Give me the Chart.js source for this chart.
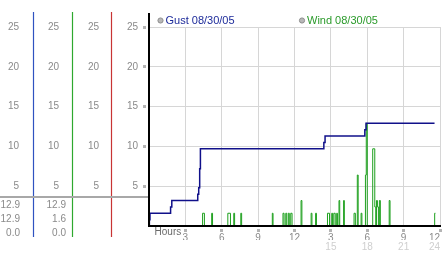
<!DOCTYPE html>
<html><head><meta charset="utf-8">
<style>html,body{margin:0;padding:0;background:#fff;}canvas{display:block;}</style>
<script src="https://cdn.jsdelivr.net/npm/chart.js@4.4.1/dist/chart.umd.min.js"></script>
</head><body>
<canvas id="c" width="442" height="253"></canvas>
<script>
// ---- data ----
const seriesLabels = ['Gust 08/30/05', 'Wind 08/30/05'];
const gustHours  = [0, 0.03, 0.08, 1.78, 1.88, 4.02, 4.10, 4.18, 4.24, 14.42, 14.52, 17.80, 17.90, 23.55];
const gustValues = [0, 0.8, 1.6, 2.4, 3.2, 4.0, 4.8, 7.2, 9.7, 10.5, 11.3, 12.1, 12.9, 12.9];
const windHours  = [0, 4.42, 4.57, 5.17, 5.24, 6.50, 6.72, 6.99, 7.06, 7.57, 7.64, 10.17, 10.23,
  11.05, 11.14, 11.28, 11.36, 11.49, 11.57, 11.69, 11.80, 12.54, 12.61, 13.37, 13.44, 13.74, 13.81,
  14.72, 14.89, 15.07, 15.14, 15.24, 15.36, 15.48, 15.54, 15.67, 15.73, 16.05, 16.11, 16.91, 17.02,
  17.18, 17.25, 17.49, 17.56, 17.85, 17.92, 18.00, 18.45, 18.62, 18.70, 18.76, 18.84, 18.92,
  19.00, 19.08, 19.81, 19.88, 23.56, 23.62];
const windValues = [0, 1.6, 0, 1.6, 0, 1.6, 0, 1.6, 0, 1.6, 0, 1.6, 0,
  1.6, 0, 1.6, 0, 1.6, 0, 1.6, 0, 3.2, 0, 1.6, 0, 1.6, 0,
  1.6, 0, 1.6, 0, 1.6, 0, 1.6, 0, 3.2, 0, 3.2, 0, 1.6, 0,
  6.4, 0, 1.6, 0, 6.4, 12.9, 0, 9.7, 2.4, 0, 3.2, 2.4, 0,
  3.2, 0, 3.2, 0, 1.6, 1.6];
const gustStats = [12.9, 12.9, 0.0];   // max, current, min
const windStats = [12.9, 1.6, 0.0];
const yTickValues = [5, 10, 15, 20, 25];
const xTickHours = [0, 3, 6, 9, 12, 15, 18, 21, 24];
const xTopLabels = ['  Hours', '3', '6', '9', '12', '3', '6', '9', '12'];
const xBottomLabels = ['', '', '', '', '', '15', '18', '21', '24'];
const yMin = 0, yMax = 25, xMin = 0, xMax = 24;

// ---- styles ----
const FAM = "'Liberation Sans', Arial, sans-serif";
const lineColors = ['#10108a', '#1ea01e'];
const legendTextColors = ['#1c2a9a', '#2a9a2a'];
const columnColors = ['#2f52c0', '#2ea82e', '#c83434'];
const tickGrey = '#8a8a8a';

function sideAxis(color, weight, width, pad) {
  return {
    type: 'linear', position: 'left', weight: weight, min: yMin, max: yMax,
    afterBuildTicks: s => { s.ticks = yTickValues.map(v => ({value: v})); },
    afterFit: s => { s.width = width; },
    grid: { display: false, drawTicks: false },
    border: { display: true, color: color, width: 1 },
    ticks: { padding: pad, color: tickGrey, font: { family: FAM, size: 10 } }
  };
}

const panelPlugin = {
  id: 'panel',
  afterDraw(chart) {
    const { ctx, chartArea: ca, scales: s } = chart;
    ctx.save();
    // coloured column lines
    ['yG', 'yW', 'yR'].forEach((id, i) => {
      const x = Math.round(s[id].right) + 0.5;
      ctx.strokeStyle = columnColors[i]; ctx.lineWidth = 1.2;
      ctx.beginPath(); ctx.moveTo(x, 12); ctx.lineTo(x, ca.bottom + 11); ctx.stroke();
    });
    // main black axis extension above the grid
    ctx.strokeStyle = '#000'; ctx.lineWidth = 2;
    ctx.beginPath(); ctx.moveTo(ca.left, 13); ctx.lineTo(ca.left, ca.bottom + 1); ctx.stroke();
    // separator
    const sepY = ca.bottom - 29;
    ctx.strokeStyle = '#a8a8a8'; ctx.lineWidth = 2;
    ctx.beginPath(); ctx.moveTo(0, sepY); ctx.lineTo(ca.left - 1, sepY); ctx.stroke();
    // stats
    ctx.font = '10px ' + FAM; ctx.fillStyle = tickGrey;
    ctx.textAlign = 'right'; ctx.textBaseline = 'middle';
    gustStats.forEach((v, i) => ctx.fillText(v.toFixed(1), s.yG.right - 13, sepY + 8.5 + i * 14));
    windStats.forEach((v, i) => ctx.fillText(v.toFixed(1), s.yW.right - 6, sepY + 8.5 + i * 14));
    // legend
    const legendX = [ca.left + 11.5, ca.left + 153];
    chart.data.datasets.forEach((ds, i) => {
      const cx = legendX[i], cy = ca.top - 6.5;
      ctx.beginPath(); ctx.arc(cx, cy, 2.6, 0, Math.PI * 2);
      ctx.fillStyle = '#b8b8b8'; ctx.fill();
      ctx.strokeStyle = '#8e8e8e'; ctx.lineWidth = 1; ctx.stroke();
      ctx.font = '11px ' + FAM; ctx.textAlign = 'left'; ctx.textBaseline = 'middle';
      ctx.fillStyle = legendTextColors[i];
      ctx.fillText(ds.label, cx + 5, cy + 0.5);
    });
    ctx.restore();
  }
};

new Chart(document.getElementById('c'), {
  type: 'line',
  data: {
    datasets: [
      { label: seriesLabels[0], data: gustHours.map((h, i) => ({x: h, y: gustValues[i]})),
        borderColor: lineColors[0], borderWidth: 1.5, stepped: true, pointRadius: 0, fill: false },
      { label: seriesLabels[1], data: windHours.map((h, i) => ({x: h, y: windValues[i]})),
        borderColor: lineColors[1], borderWidth: 1, stepped: true, pointRadius: 0, fill: false }
    ]
  },
  options: {
    responsive: false, animation: false, devicePixelRatio: 1,
    layout: { padding: { top: 27, right: 2, bottom: 0, left: 0 } },
    plugins: { legend: { display: false }, tooltip: { enabled: false } },
    scales: {
      x: {
        type: 'linear', position: 'bottom', weight: 0, min: xMin, max: xMax,
        afterBuildTicks: s => { s.ticks = xTickHours.map(v => ({value: v})); },
        afterFit: s => { s.height = 14; },
        grid: { color: '#d6d6d6', lineWidth: 1, tickLength: 6, tickWidth: 3,
                tickColor: c => c.index === 0 ? 'rgba(0,0,0,0)' : '#b4b4b4',
                tickBorderDash: [3, 2], tickBorderDashOffset: 3 },
        border: { color: '#000', width: 2, z: 1 },
        ticks: { align: 'inner', padding: -3, maxRotation: 0, autoSkip: false,
                 font: { family: FAM, size: 10, lineHeight: 0.6 },
                 color: c => c.index === 0 ? '#6a6a6a' : tickGrey,
                 callback: (v, i) => i === 0 ? xTopLabels[0] : ['', xTopLabels[i]] }
      },
      x2: {
        type: 'linear', position: 'bottom', weight: 1, min: xMin, max: xMax,
        afterBuildTicks: s => { s.ticks = xTickHours.map(v => ({value: v})); },
        afterFit: s => { s.height = 13; },
        grid: { display: false, drawTicks: false },
        border: { display: false },
        ticks: { align: 'inner', padding: 1, maxRotation: 0, autoSkip: false,
                 font: { family: FAM, size: 10 }, color: '#cfcfcf',
                 callback: (v, i) => xBottomLabels[i] }
      },
      y: {
        type: 'linear', position: 'left', weight: 0, min: yMin, max: yMax,
        afterBuildTicks: s => { s.ticks = yTickValues.map(v => ({value: v})); },
        afterFit: s => { s.width = 38; },
        grid: { color: '#d6d6d6', lineWidth: 1, tickLength: 6, tickWidth: 3, tickColor: '#b4b4b4',
                tickBorderDash: [3, 3], tickBorderDashOffset: 0 },
        border: { color: '#000', width: 2, z: 1 },
        ticks: { padding: 5, color: tickGrey, font: { family: FAM, size: 10 } }
      },
      yR: sideAxis(columnColors[2], 1, 39, 12),
      yW: sideAxis(columnColors[1], 2, 39, 13),
      yG: sideAxis(columnColors[0], 3, 33, 14)
    }
  },
  plugins: [panelPlugin]
});
</script>
</body></html>
